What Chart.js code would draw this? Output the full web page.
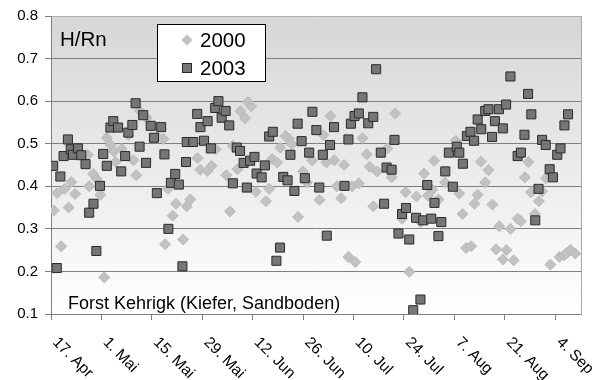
<!DOCTYPE html>
<html>
<head>
<meta charset="utf-8">
<script src="https://cdn.jsdelivr.net/npm/chart.js@4/dist/chart.umd.min.js"></script>
<style>
  body { margin: 0; background: #fff; }
</style>
</head>
<body>
<canvas id="chartHRn" width="602" height="380"></canvas>
<script>
// x-Werte = Tage ab 17. Apr
const tickTage = [0, 14, 28, 42, 56, 70, 84, 98, 112, 126, 140];
const tickLabels = ["17. Apr", "1. Mai", "15. Mai", "29. Mai", "12. Jun", "26. Jun",
                    "10. Jul", "24. Jul", "7. Aug", "21. Aug", "4. Sep"];

const tage2000 = [0.8, 1.7, 2.8, 3.8, 4.9, 5.6, 6.7, 10.2, 10.6, 11.7, 12.7, 13.7, 14.8, 15.5,
  16.6, 17.5, 17.9, 19.6, 21.5, 22.9, 23.7, 24.7, 26.6, 29.6, 31.2, 31.7, 32.5, 33.8, 34.7,
  36.7, 37.7, 38.7, 40.7, 41.5, 43.5, 44.6, 45.8, 48.7, 49.7, 50.5, 51.8, 52.6, 53.9, 54.7,
  55.6, 56.9, 59.7, 60.6, 61.4, 62.8, 63.7, 65.1, 66.0, 66.9, 68.6, 70.0, 71.1, 72.5, 74.6,
  75.7, 76.5, 77.6, 78.7, 79.4, 80.6, 81.4, 82.6, 83.6, 84.5, 85.5, 86.5, 87.7, 88.5, 89.5,
  90.6, 93.4, 94.6, 95.6, 97.5, 98.5, 99.5, 101.5, 102.7, 103.6, 104.7, 105.9, 106.4, 107.6,
  109.4, 112.4, 113.4, 114.3, 115.3, 116.7, 117.6, 118.5, 119.4, 120.6, 121.5, 122.6, 123.6,
  124.5, 125.5, 126.5, 127.6, 128.5, 129.6, 130.5, 131.6, 132.6, 133.3, 134.4, 135.5, 136.4,
  137.5, 138.7, 141.2, 142.5, 143.3, 144.3, 145.6];
const werte2000 = [0.343, 0.384, 0.259, 0.394, 0.350, 0.410, 0.382, 0.474, 0.400, 0.429, 0.417, 0.380, 0.186, 0.514,
  0.497, 0.482, 0.457, 0.488, 0.520, 0.461, 0.426, 0.577, 0.561, 0.516, 0.511, 0.264, 0.394, 0.331, 0.359,
  0.275, 0.353, 0.369, 0.466, 0.439, 0.436, 0.448, 0.487, 0.426, 0.341, 0.495, 0.440, 0.577, 0.560, 0.598,
  0.588, 0.387, 0.365, 0.394, 0.464, 0.456, 0.491, 0.518, 0.512, 0.499, 0.328, 0.435, 0.409, 0.461, 0.368,
  0.520, 0.456, 0.565, 0.461, 0.400, 0.372, 0.450, 0.234, 0.400, 0.222, 0.407, 0.513, 0.475, 0.446, 0.353,
  0.435, 0.489, 0.421, 0.571, 0.324, 0.386, 0.199, 0.376, 0.316, 0.430, 0.378, 0.392, 0.460, 0.369,
  0.409, 0.507, 0.383, 0.335, 0.255, 0.259, 0.359, 0.380, 0.458, 0.409, 0.438, 0.357, 0.252,
  0.306, 0.228, 0.250, 0.300, 0.226, 0.324, 0.318, 0.421, 0.457, 0.386, 0.335, 0.365, 0.388,
  0.419, 0.216, 0.234, 0.238, 0.243, 0.251, 0.242];

const tage2003 = [0.6, 1.6, 2.6, 3.5, 4.7, 5.5, 6.1, 7.5, 8.4, 9.6, 10.6, 11.8, 12.6, 13.6, 14.5,
  15.5, 16.5, 17.3, 18.6, 19.5, 20.6, 21.5, 22.6, 23.5, 24.6, 25.6, 26.4, 27.7, 28.6, 29.4,
  30.6, 31.5, 32.6, 33.3, 34.5, 35.5, 36.5, 37.5, 37.7, 39.5, 40.6, 41.5, 42.5, 43.5, 44.4,
  45.6, 46.5, 47.4, 48.5, 49.5, 50.5, 51.6, 52.5, 53.5, 54.4, 55.3, 56.5, 57.1, 58.5, 59.4,
  60.6, 61.6, 62.6, 63.6, 64.5, 65.7, 66.5, 67.6, 68.5, 69.6, 70.5, 71.7, 72.6, 73.7, 74.5,
  75.5, 76.6, 77.5, 78.6, 81.5, 82.6, 83.3, 84.3, 85.5, 86.5, 88.1, 89.5, 90.3, 91.6, 92.5,
  93.2, 94.6, 95.4, 96.5, 97.5, 98.6, 99.5, 100.6, 101.4, 102.6, 103.4, 104.5, 105.6, 106.5,
  107.6, 108.4, 109.5, 110.5, 111.6, 112.7, 113.4, 114.4, 115.5, 116.5, 117.5, 118.5, 119.5,
  120.6, 121.5, 122.5, 123.3, 124.4, 125.5, 126.4, 127.6, 129.6, 130.5, 131.5, 132.5, 133.4,
  134.5, 135.4, 136.4, 137.4, 138.5, 139.4, 140.6, 141.5, 142.6, 143.6];
const werte2003 = [0.448, 0.208, 0.423, 0.471, 0.510, 0.487, 0.474, 0.489, 0.473, 0.452, 0.338, 0.359, 0.248, 0.401, 0.476,
  0.448, 0.538, 0.553, 0.538, 0.435, 0.471, 0.526, 0.544, 0.595, 0.493, 0.567, 0.455, 0.542, 0.514, 0.384,
  0.539, 0.475, 0.300, 0.408, 0.429, 0.404, 0.212, 0.457, 0.504, 0.504, 0.570, 0.539, 0.507, 0.553, 0.489,
  0.584, 0.600, 0.561, 0.577, 0.543, 0.407, 0.491, 0.483, 0.455, 0.397, 0.460, 0.469, 0.430, 0.421, 0.449,
  0.517, 0.528, 0.225, 0.256, 0.422, 0.414, 0.474, 0.389, 0.547, 0.506, 0.419, 0.479, 0.575, 0.532, 0.397,
  0.474, 0.284, 0.497, 0.539, 0.401, 0.510, 0.547, 0.565, 0.571, 0.609, 0.548, 0.563, 0.675, 0.479, 0.359,
  0.444, 0.439, 0.509, 0.289, 0.335, 0.349, 0.275, 0.109, 0.326, 0.134, 0.320, 0.403, 0.324, 0.361,
  0.283, 0.316, 0.435, 0.479, 0.399, 0.493, 0.479, 0.453, 0.518, 0.528, 0.507, 0.557, 0.534,
  0.577, 0.581, 0.516, 0.553, 0.581, 0.536, 0.592, 0.658, 0.471, 0.479, 0.521, 0.617, 0.569,
  0.320, 0.394, 0.509, 0.497, 0.440, 0.421, 0.474, 0.489, 0.543, 0.569];

const schrift = '"Liberation Sans", Arial, sans-serif';

function punkte(tage, werte) {
    return tage.map((t, i) => ({ x: t, y: werte[i] }));
}

//---- Hintergrund (Verlauf grau -> weiss)
const hintergrund = {
    id: "hintergrund",
    beforeDraw(chart) {
        const { ctx, chartArea: a } = chart;
        const g = ctx.createLinearGradient(0, a.top, 0, a.bottom);
        g.addColorStop(0, "#d6d6d6");
        g.addColorStop(1, "#ffffff");
        ctx.save();
        ctx.fillStyle = g;
        ctx.fillRect(a.left, a.top, a.right - a.left, a.bottom - a.top);
        ctx.restore();
    }
};

//---- Rahmen, schraege Datumsbeschriftung, Legende, Texte
const extras = {
    id: "extras",
    afterDraw(chart) {
        const { ctx, chartArea: a } = chart;
        const xs = chart.scales.x;
        ctx.save();

        // rechter Rand
        ctx.strokeStyle = "#a8a8a8";
        ctx.lineWidth = 1;
        ctx.beginPath();
        ctx.moveTo(Math.round(a.right) + 0.5, a.top);
        ctx.lineTo(Math.round(a.right) + 0.5, a.bottom);
        ctx.stroke();

        // Datum 45° gedreht
        ctx.fillStyle = "#000";
        ctx.font = "15.5px " + schrift;
        ctx.textAlign = "left";
        ctx.textBaseline = "middle";
        tickTage.forEach((t, i) => {
            const px = xs.getPixelForValue(t);
            ctx.save();
            ctx.translate(px + 4, a.bottom + 26);
            ctx.rotate(Math.PI / 4);
            ctx.fillText(tickLabels[i], 0, 0);
            ctx.restore();
        });

        // Legende
        ctx.fillStyle = "#fff";
        ctx.fillRect(157.5, 24.5, 108, 57);
        ctx.strokeStyle = "#000";
        ctx.strokeRect(157.5, 24.5, 108, 57);

        const ds = chart.data.datasets;
        // Raute
        ctx.fillStyle = ds[0].backgroundColor;
        ctx.beginPath();
        ctx.moveTo(187, 34.5); ctx.lineTo(192.5, 40); ctx.lineTo(187, 45.5); ctx.lineTo(181.5, 40);
        ctx.closePath();
        ctx.fill();
        // Quadrat
        ctx.fillStyle = ds[1].backgroundColor;
        ctx.strokeStyle = ds[1].borderColor;
        ctx.fillRect(182.5, 63.5, 9, 9);
        ctx.strokeRect(182.5, 63.5, 9, 9);

        ctx.fillStyle = "#000";
        ctx.font = "20.5px " + schrift;
        ctx.textBaseline = "alphabetic";
        ctx.fillText(ds[0].label, 200, 47);
        ctx.fillText(ds[1].label, 200, 75);

        ctx.fillText("H/Rn", 60, 46);
        ctx.font = "18px " + schrift;
        ctx.fillText("Forst Kehrigk (Kiefer, Sandboden)", 68, 309);

        ctx.restore();
    }
};

new Chart(document.getElementById("chartHRn"), {
    type: "scatter",
    data: {
        datasets: [{
            label: "2000",
            data: punkte(tage2000, werte2000),
            pointStyle: "rectRot",
            pointRadius: 5.5,
            backgroundColor: "#c2c2c2",
            borderColor: "#bababa",
            borderWidth: 1,
            order: 2
        }, {
            label: "2003",
            data: punkte(tage2003, werte2003),
            pointStyle: "rect",
            pointRadius: 6.4,
            backgroundColor: "#767676",
            borderColor: "#2a2a2a",
            borderWidth: 1,
            order: 1
        }]
    },
    options: {
        responsive: false,
        animation: false,
        events: [],
        layout: { padding: { top: 15, right: 21, left: 0, bottom: 0 } },
        plugins: {
            legend: { display: false },
            tooltip: { enabled: false }
        },
        scales: {
            x: {
                type: "linear",
                min: 0,
                max: 147.2,
                afterBuildTicks: s => { s.ticks = tickTage.map(v => ({ value: v })); },
                afterFit: s => { s.height = 66; },
                ticks: { display: false },
                grid: { drawOnChartArea: false, tickLength: 6, color: "#7f7f7f" },
                border: { color: "#7f7f7f" }
            },
            y: {
                min: 0.1,
                max: 0.8,
                afterFit: s => { s.width = 51; },
                ticks: {
                    stepSize: 0.1,
                    padding: 7,
                    color: "#000",
                    font: { family: schrift, size: 15 },
                    callback: v => v.toFixed(1)
                },
                grid: {
                    tickLength: 6,
                    tickColor: "#7f7f7f",
                    color: c => (c.tick && Math.abs(c.tick.value - 0.8) < 1e-6) ? "#b0b0b0" : "#7f7f7f"
                },
                border: { color: "#7f7f7f" }
            }
        }
    },
    plugins: [hintergrund, extras]
});
</script>
</body>
</html>
